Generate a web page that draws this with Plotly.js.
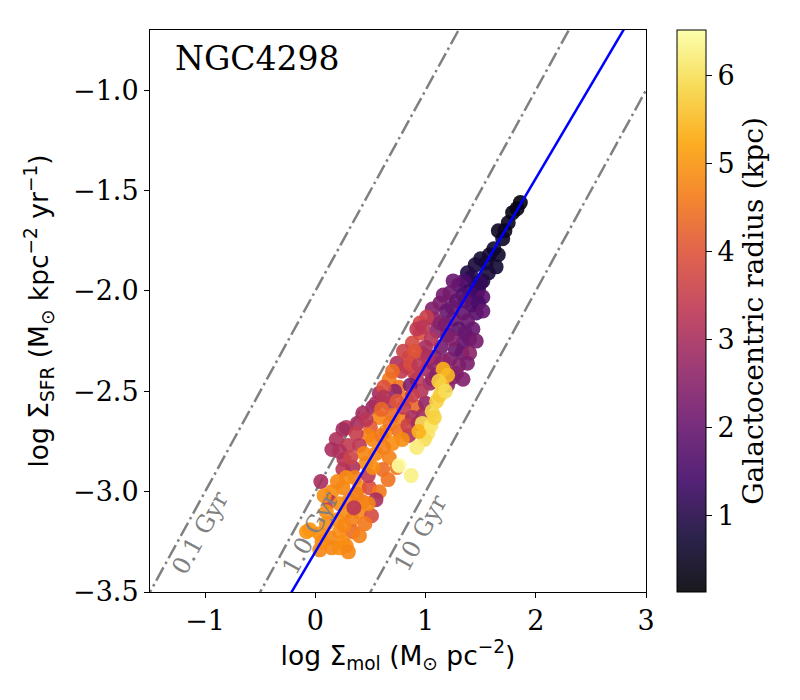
<!DOCTYPE html>
<html>
<head>
<meta charset="utf-8">
<script src="https://cdn.plot.ly/plotly-3.0.1.min.js"></script>
<style>html,body{margin:0;padding:0;background:#fff;}#chart{width:800px;height:700px;}</style>
</head>
<body>
<div id="chart"></div>
<script>
// Molecular gas surface density (log, Msun/pc^2)
const logSigmaMol = [
 1.86,1.83,1.79,1.75,1.72,1.66,1.70,1.62,1.66,1.58,1.64,1.55,1.50,1.45,1.57,1.52,1.45,1.38,1.48,1.42,
 1.35,1.30,1.25,1.40,1.22,1.34,1.47,1.52,1.13,1.28,1.42,1.06,1.19,1.34,1.46,1.25,1.38,1.30,1.43,1.13,
 1.20,1.34,1.27,1.40,1.33,1.22,1.14,1.08,1.30,1.18,1.40,1.10,1.25,
 1.50,1.36,1.16,1.24,1.48,1.52,1.08,1.18,1.36,1.46,1.24,1.16,1.38,1.28,1.34,1.20,1.06,
 1.01,0.95,0.95,0.88,0.85,0.97,1.05,0.92,1.00,0.83,0.74,0.90,1.01,1.07,0.80,
 0.98,0.90,0.78,0.86,1.02,0.94,
 0.67,0.76,0.92,1.04,0.58,0.67,0.83,0.92,1.00,0.52,0.43,0.58,0.70,0.80,0.88,0.28,0.38,0.50,0.64,0.76,
 0.85,0.72,0.62,0.80,0.96,1.10,0.86,0.70,0.55,
 0.62,0.74,0.88,0.98,0.68,0.60,0.46,0.84,0.93,0.79,0.48,
 0.25,0.19,0.15,0.26,0.25,0.05,0.37,0.40,0.52,0.60,0.70,0.55,0.67,0.46,0.61,0.74,0.34,0.25,0.40,0.49,
 0.58,0.15,0.31,0.43,0.55,0.13,0.28,0.40,0.51,0.20,0.33,0.45,-0.05,0.04,0.22,0.34,0.13,0.25,0.04,0.15,
 0.22,0.28,-0.08,0.10,0.36,0.48,
 0.30,0.22,0.44,0.62,0.32,0.52,0.66,0.28,0.20,0.08,0.37,0.48,0.22,0.35,0.10,0.26,0.40,0.06,0.30,
 1.15,1.10,1.13,1.06,0.97,1.02,0.99,0.92,0.76,0.87,1.16,1.20,0.94,1.05,1.12,1.18,1.08
];
// Star formation rate surface density (log, Msun/kpc^2/yr)
const logSigmaSFR = [
 -1.56,-1.59,-1.61,-1.66,-1.70,-1.70,-1.74,-1.79,-1.82,-1.82,-1.88,-1.86,-1.84,-1.87,-1.91,-1.95,-1.96,-1.91,-1.99,-1.93,
 -1.95,-1.97,-1.95,-2.00,-2.01,-2.02,-2.01,-2.03,-2.06,-2.05,-2.07,-2.09,-2.10,-2.11,-2.11,-2.14,-2.15,-2.19,-2.19,-2.16,
 -2.22,-2.26,-2.29,-2.24,-2.31,-2.34,-2.28,-2.33,-2.37,-2.40,-2.31,-2.20,-2.43,
 -1.96,-2.05,-2.02,-2.08,-2.06,-2.10,-2.14,-2.17,-2.21,-2.25,-2.24,-2.35,-2.36,-2.41,-2.44,-2.47,-2.44,
 -2.13,-2.16,-2.21,-2.26,-2.33,-2.31,-2.24,-2.19,-2.28,-2.38,-2.36,-2.41,-2.39,-2.36,-2.30,
 -2.18,-2.30,-2.40,-2.36,-2.33,-2.37,
 -2.44,-2.48,-2.44,-2.46,-2.51,-2.56,-2.54,-2.58,-2.56,-2.58,-2.61,-2.63,-2.62,-2.64,-2.63,-2.68,-2.66,-2.68,-2.70,-2.70,
 -2.72,-2.50,-2.48,-2.58,-2.50,-2.42,-2.47,-2.40,-2.56,
 -2.53,-2.55,-2.52,-2.62,-2.66,-2.59,-2.64,-2.67,-2.66,-2.74,-2.72,
 -2.69,-2.74,-2.79,-2.84,-2.89,-2.95,-2.71,-2.77,-2.74,-2.72,-2.76,-2.81,-2.83,-2.86,-2.89,-2.88,-2.88,-2.98,-2.98,-2.98,
 -3.00,-3.00,-3.04,-3.05,-3.04,-3.05,-3.10,-3.10,-3.12,-3.14,-3.14,-3.16,-3.19,-3.21,-3.20,-3.20,-3.23,-3.25,-3.29,-3.28,
 -3.28,-3.27,-3.20,-3.16,-2.93,-2.92,
 -2.77,-2.80,-2.81,-2.78,-2.83,-2.88,-2.94,-2.93,-2.95,-3.02,-3.01,-3.06,-3.06,-3.08,-3.10,-3.17,-3.22,-3.25,-3.30,
 -2.47,-2.55,-2.52,-2.60,-2.66,-2.71,-2.74,-2.78,-2.87,-2.92,-2.39,-2.42,-2.70,-2.67,-2.45,-2.50,-2.63
];
// Galactocentric radius (kpc)
const radiusKpc = [
 0.2,0.3,0.3,0.4,0.4,0.5,0.5,0.6,0.6,0.6,0.7,0.7,0.7,0.8,0.8,0.9,0.9,0.9,1.0,1.0,
 1.5,1.7,2.0,1.3,2.1,1.6,1.4,1.8,2.3,1.9,1.6,2.4,2.0,1.9,1.7,2.1,2.0,1.8,2.0,2.2,
 2.0,1.9,2.1,2.1,2.0,2.3,2.2,2.4,2.4,2.2,2.6,2.5,2.3,
 1.2,1.8,2.2,2.0,1.5,1.9,2.6,2.3,2.0,2.2,2.4,2.6,2.3,2.5,2.4,2.6,2.7,
 3.5,3.7,3.9,3.8,4.2,3.5,3.2,3.4,3.0,3.9,3.1,3.6,2.9,2.6,3.6,
 3.3,4.0,3.4,3.8,3.1,3.3,
 4.6,4.5,3.3,2.8,2.9,3.1,4.6,4.3,2.7,2.8,3.0,4.8,4.4,4.7,3.0,3.2,3.0,4.1,4.9,4.5,
 3.1,2.6,3.9,3.4,3.2,2.5,2.4,4.4,3.0,
 3.2,4.0,3.5,2.9,4.6,4.3,3.3,3.6,3.0,4.9,4.7,
 2.9,3.1,3.0,3.2,3.3,3.0,3.5,3.3,4.8,4.6,4.9,4.8,4.7,4.9,4.4,4.6,3.1,4.8,4.9,3.9,
 4.6,4.9,4.8,4.5,3.0,3.2,4.9,4.8,3.8,4.9,4.7,4.6,5.0,4.9,4.9,4.4,4.8,4.9,4.8,4.8,
 4.9,4.9,5.0,4.9,4.7,3.4,
 3.4,3.1,4.8,4.7,3.6,4.9,4.5,4.9,4.8,4.9,4.7,4.8,4.9,3.3,4.9,4.8,4.7,4.9,4.8,
 5.6,5.8,5.7,5.9,6.0,6.1,6.0,6.2,6.5,6.3,5.4,5.5,5.4,6.1,5.8,6.0,5.8
];
// Fit line and depletion-time reference lines
const fitX = [-0.4, 3.0];
const fitSlope = 0.93;
const fitIntercept = -3.30;
const depletionGyr = [0.1, 1.0, 10];
const depletionLabels = ['0.1 Gyr', '1.0 Gyr', '10 Gyr'];
const depletionLabelY = -3.205;
const refX = [-2, 3.5];
const xTickVals = [-1, 0, 1, 2, 3];
const xTickText = ['\u22121', '0', '1', '2', '3'];
const yTickVals = [-1.0, -1.5, -2.0, -2.5, -3.0, -3.5];
const yTickText = ['\u22121.0', '\u22121.5', '\u22122.0', '\u22122.5', '\u22123.0', '\u22123.5'];
const cbTickVals = [1, 2, 3, 4, 5, 6];
const rMin = 0.13, rMax = 6.52;

const inferno = [
 [0.0,'#000004'],[0.1,'#160b39'],[0.2,'#420a68'],[0.3,'#6a176e'],[0.4,'#932667'],
 [0.5,'#bc3754'],[0.6,'#dd513a'],[0.7,'#f37819'],[0.8,'#fca50a'],[0.9,'#f6d746'],[1.0,'#fcffa4']
];
function blend(hex, a){
  const r=parseInt(hex.substr(1,2),16), g=parseInt(hex.substr(3,2),16), b=parseInt(hex.substr(5,2),16);
  const f=c=>Math.round(a*c+(1-a)*255);
  return 'rgb('+f(r)+','+f(g)+','+f(b)+')';
}
const infernoAlpha = inferno.map(s=>[s[0], blend(s[1], 0.9)]);

const serif = 'DejaVu Serif';
const sans = 'DejaVu Sans';
const traces = [];
depletionGyr.forEach(t=>{
  const off = 6 - 9 - Math.log10(t);
  traces.push({x: refX, y: refX.map(v=>v+off), mode:'lines', type:'scatter',
    line:{color:'#808080', width:2.5, dash:'15px,4px,2.5px,4px'}, hoverinfo:'skip', showlegend:false});
});
traces.push({x: logSigmaMol, y: logSigmaSFR, mode:'markers', type:'scatter', showlegend:false,
  marker:{size:15, color: radiusKpc, colorscale: inferno, cmin:rMin, cmax:rMax, opacity:0.9, line:{width:0}, showscale:false}});
traces.push({x: fitX, y: fitX.map(v=>fitSlope*v+fitIntercept), mode:'lines', type:'scatter',
  line:{color:'#0000ff', width:2.5}, showlegend:false});
traces.push({x:[null], y:[null], mode:'markers', type:'scatter', showlegend:false, hoverinfo:'skip',
  marker:{color:[rMin], colorscale: infernoAlpha, cmin:rMin, cmax:rMax, showscale:true,
    colorbar:{x:1.0625, xanchor:'left', xpad:0, ypad:0, y:0.5, yanchor:'middle', len:1, lenmode:'fraction',
      thickness:29, outlinecolor:'#000', outlinewidth:1, tickvals:cbTickVals, ticks:'outside', ticklen:6, tickwidth:1,
      tickcolor:'#000', tickfont:{family:serif, size:27, color:'#000'},
      title:{text:'Galactocentric radius (kpc)', side:'right', font:{family:serif, size:28, color:'#000'}}}}});

const annotations = depletionGyr.map((t,i)=>{
  const off = 6 - 9 - Math.log10(t);
  const xLine = depletionLabelY - off;
  return {x: xLine + 0.16, y: depletionLabelY, xref:'x', yref:'y', text: depletionLabels[i], showarrow:false,
    textangle:-61.2, xanchor:'center', yanchor:'middle', font:{family:serif, size:24, color:'#808080'}};
});
annotations.push({x:-1.29, y:-0.84, xref:'x', yref:'y', text:'NGC4298', showarrow:false, xanchor:'left', yanchor:'middle',
  font:{family:serif, size:33, color:'#000'}});

const layout = {
  width:800, height:700, paper_bgcolor:'#fff', plot_bgcolor:'#fff',
  margin:{l:150, r:154, t:30, b:108, pad:0},
  xaxis:{range:[-1.5,3], tickvals:xTickVals, ticktext:xTickText, ticks:'outside', ticklen:5, tickwidth:1, tickcolor:'#000',
    showline:true, linecolor:'#000', linewidth:1, mirror:true, showgrid:false, zeroline:false,
    tickfont:{family:serif, size:27, color:'#000'},
    title:{text:'log \u03A3<sub>mol</sub> (M<sub>\u2299</sub> pc<sup>\u22122</sup>)', font:{family:sans, size:26.5, color:'#000'}, standoff:10}},
  yaxis:{range:[-3.5,-0.70], tickvals:yTickVals, ticktext:yTickText, ticks:'outside', ticklen:5, tickwidth:1, tickcolor:'#000',
    showline:true, linecolor:'#000', linewidth:1, mirror:true, showgrid:false, zeroline:false,
    tickfont:{family:serif, size:27, color:'#000'},
    title:{text:'log \u03A3<sub>SFR</sub> (M<sub>\u2299</sub> kpc<sup>\u22122</sup> yr<sup>\u22121</sup>)', font:{family:sans, size:26.5, color:'#000'}, standoff:16}},
  annotations: annotations,
  showlegend:false
};
Plotly.newPlot('chart', traces, layout, {displayModeBar:false, staticPlot:true});
</script>
</body>
</html>
